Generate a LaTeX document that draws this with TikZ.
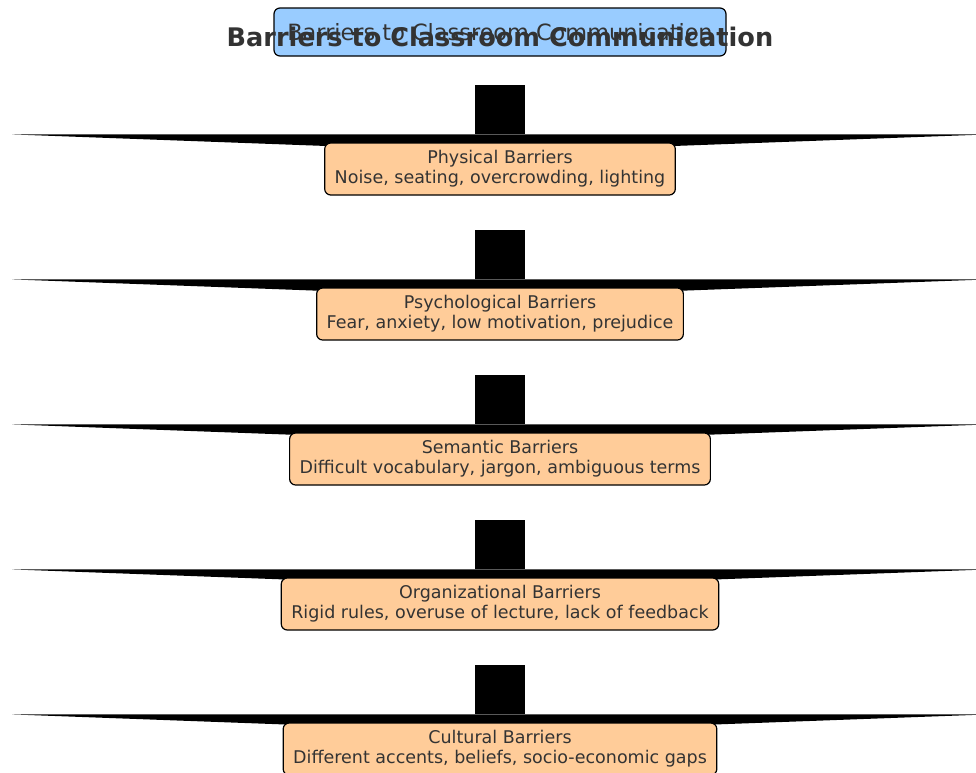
\documentclass[tikz,border=0pt]{standalone}
\usepackage{fontspec}
\setmainfont{DejaVu Sans}
\usetikzlibrary{calc}
\pgfdeclarelayer{back}
\pgfsetlayers{back,main}
\definecolor{boxorange}{HTML}{FFCC99}
\definecolor{boxblue}{HTML}{99CCFF}
\definecolor{inkgray}{HTML}{333333}

\begin{document}
\begin{tikzpicture}[x=1pt,y=-1pt,
		barrier/.style={draw=black,fill=boxorange,rounded corners=6pt,line width=1.2pt,align=center,text=inkgray,
			font=\fontsize{17.5}{20}\selectfont,inner xsep=10pt,minimum height=52pt},
		pics/fat/.style={code={
				\fill[black] (-25,-57) rectangle (25,-8);
				\fill[black] (-488,-8) -- (488,-8) -- (0,10) -- cycle;
		}}]
	\useasboundingbox (0,0) rectangle (976,772);
	\node[draw=black,fill=boxblue,rounded corners=6pt,line width=1.2pt,text=inkgray,font=\fontsize{22.4}{26}\selectfont,
		minimum width=452pt,minimum height=48pt] (top) at (500,32) {Barriers to Classroom Communication};
	\node[text=inkgray,font=\bfseries\fontsize{25.6}{30}\selectfont] (title) at (500,37) {Barriers to Classroom Communication};
	\node[barrier] (phys) at (500,169) {Physical Barriers\\Noise, seating, overcrowding, lighting};
	\node[barrier] (psych) at (500,314) {Psychological Barriers\\Fear, anxiety, low motivation, prejudice};
	\node[barrier] (sem) at (500,459) {Semantic Barriers\\Difficult vocabulary, jargon, ambiguous terms};
	\node[barrier] (org) at (500,604) {Organizational Barriers\\Rigid rules, overuse of lecture, lack of feedback};
	\node[barrier] (cult) at (500,749) {Cultural Barriers\\Different accents, beliefs, socio-economic gaps};
	\begin{pgfonlayer}{back}
		\foreach \n in {phys,psych,sem,org,cult}
			\pic at (\n.north) {fat};
	\end{pgfonlayer}
\end{tikzpicture}
\end{document}
